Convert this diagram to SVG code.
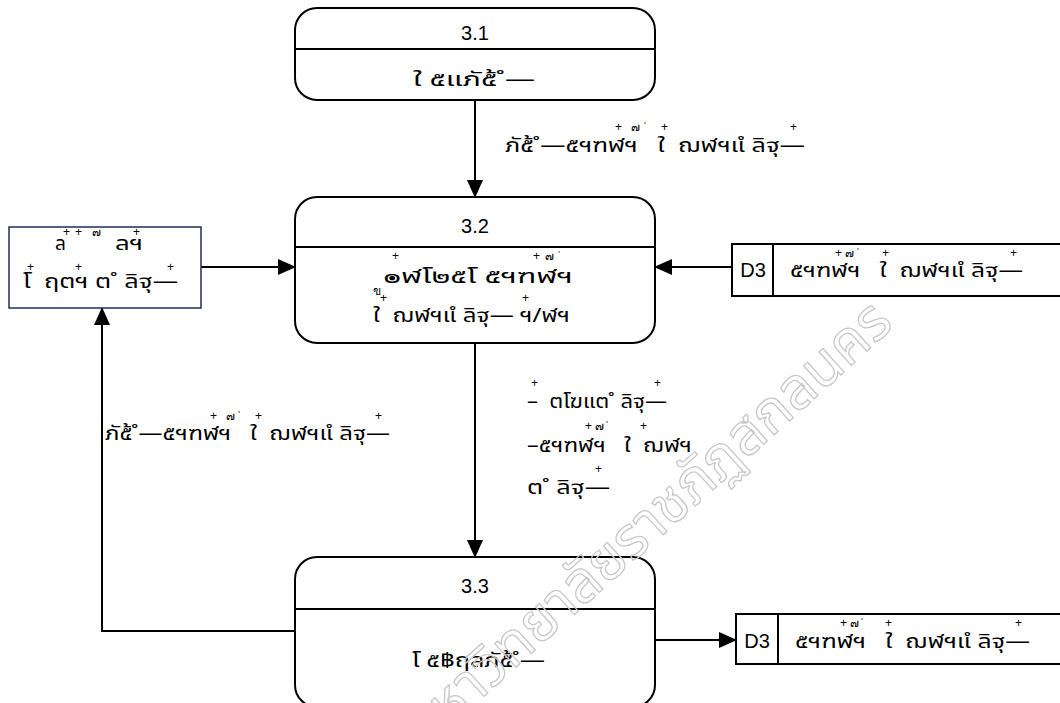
<svg xmlns="http://www.w3.org/2000/svg" width="1060" height="703" viewBox="0 0 1060 703">
<defs>
<marker id="ah" markerUnits="userSpaceOnUse" markerWidth="18" markerHeight="16" refX="17" refY="8" orient="auto">
<path d="M0,0 L18,8 L0,16 Z" fill="#000"/>
</marker>
<style>
.box{fill:#fff;stroke:#000;stroke-width:2}
.div{stroke:#000;stroke-width:2}
.num{font-family:"Liberation Sans","DejaVu Sans",sans-serif;font-size:20px;fill:#000;text-anchor:middle}
.th{font-family:"Noto Sans Thai","Noto Sans","DejaVu Sans",sans-serif;font-size:19px;fill:#000;white-space:pre}
.mk{font-family:"Liberation Sans","DejaVu Sans",sans-serif;font-size:12px;fill:#000}
.con{fill:none;stroke:#000;stroke-width:2}
.wm{font-family:"Noto Sans Thai","Noto Sans",sans-serif;font-size:58px;fill:none;stroke:#c8c8c8;stroke-width:1.3}
</style>
</defs>
<rect width="1060" height="703" fill="#fff"/>

<g id="connectors">
<line class="con" x1="475" y1="100" x2="475" y2="197" marker-end="url(#ah)"/>
<line class="con" x1="201" y1="267" x2="295" y2="267" marker-end="url(#ah)"/>
<line class="con" x1="732" y1="267" x2="655" y2="267" marker-end="url(#ah)"/>
<line class="con" x1="475" y1="343" x2="475" y2="557" marker-end="url(#ah)"/>
<polyline class="con" points="295,631 102,631 102,308" marker-end="url(#ah)"/>
<line class="con" x1="655" y1="640" x2="736" y2="640" marker-end="url(#ah)"/>
</g>

<g id="p31">
<rect class="box" x="295" y="8" width="360" height="92" rx="22"/>
<line class="div" x1="295" y1="49" x2="655" y2="49"/>
<text class="num" x="475" y="40">3.1</text>
<text class="th" x="413" y="86" textLength="122" lengthAdjust="spacingAndGlyphs">ใ ๕แภั๕้ ํ—</text>
</g>

<g id="lbl1">
<text class="th" x="505" y="152" textLength="300" lengthAdjust="spacingAndGlyphs">ภั๕้ ํ—๕ฯฑฬฯ   ใ  ฌฬฯแํ ลิฐุ—</text>
<text class="mk" y="131"><tspan x="615">+</tspan><tspan x="631">๗</tspan><tspan x="643">ˈ</tspan><tspan x="661">+</tspan><tspan x="790">+</tspan></text>
</g>

<g id="p32">
<rect class="box" x="295" y="197" width="360" height="146" rx="22"/>
<line class="div" x1="295" y1="247" x2="655" y2="247"/>
<text class="num" x="475" y="233">3.2</text>
<text class="th" x="383" y="283" textLength="190" lengthAdjust="spacingAndGlyphs">๏ฬโ๒๕โ ๕ฯฑฬฯ</text>
<text class="mk" y="260"><tspan x="392">+</tspan><tspan x="533">+</tspan><tspan x="545">๗</tspan><tspan x="557">ˈ</tspan></text>
<text class="mk" x="373" y="295">ข</text>
<text class="th" x="373" y="322" textLength="197" lengthAdjust="spacingAndGlyphs">ใ  ฌฬฯแํ ลิฐุ— ฯ/ฬฯ</text>
<text class="mk" y="302"><tspan x="380">+</tspan><tspan x="522">+</tspan></text>
</g>

<g id="entity">
<rect x="9" y="227" width="192" height="81" fill="#fff" stroke="#1f2d5a" stroke-width="1.5"/>
<text class="th" x="55" y="250">ล</text>
<text class="th" x="115" y="250" textLength="28" lengthAdjust="spacingAndGlyphs">ลฯ</text>
<text class="mk" y="236"><tspan x="63">+</tspan><tspan x="75">+</tspan><tspan x="92">๗</tspan><tspan x="133">+</tspan></text>
<text class="th" x="23" y="288" textLength="155" lengthAdjust="spacingAndGlyphs">โ  ฤตฯ ต ํ ลิฐุ—</text>
<text class="mk" y="271"><tspan x="27">+</tspan><tspan x="75">+</tspan><tspan x="167">+</tspan></text>
</g>

<g id="d3a">
<path d="M1060,244 H732 V296 H1060 M773,244 V296" fill="none" stroke="#000" stroke-width="2"/>
<text class="num" x="753" y="277">D3</text>
<text class="th" x="790" y="277" textLength="233" lengthAdjust="spacingAndGlyphs">๕ฯฑฬฯ   ใ  ฌฬฯแํ ลิฐุ—</text>
<text class="mk" y="257"><tspan x="835">+</tspan><tspan x="845">๗</tspan><tspan x="856">ˈ</tspan><tspan x="882">+</tspan><tspan x="1010">+</tspan></text>
</g>

<g id="lbl2">
<text class="th" x="527" y="408" textLength="140" lengthAdjust="spacingAndGlyphs">–  ตโฆแต ํ ลิฐุ—</text>
<text class="mk" y="387"><tspan x="531">+</tspan><tspan x="654">+</tspan></text>
<text class="th" x="527" y="452" textLength="165" lengthAdjust="spacingAndGlyphs">–๕ฯฑฬฯ   ใ  ฌฬฯ</text>
<text class="mk" y="430"><tspan x="585">+</tspan><tspan x="595">๗</tspan><tspan x="605">ˈ</tspan><tspan x="640">+</tspan></text>
<text class="th" x="527" y="494" textLength="83" lengthAdjust="spacingAndGlyphs">ต ํ ลิฐุ—</text>
<text class="mk" y="473"><tspan x="595">+</tspan></text>
</g>

<g id="lbl3">
<text class="th" x="105" y="440" textLength="285" lengthAdjust="spacingAndGlyphs">ภั๕้ ํ—๕ฯฑฬฯ   ใ  ฌฬฯแํ ลิฐุ—</text>
<text class="mk" y="420"><tspan x="210">+</tspan><tspan x="226">๗</tspan><tspan x="237">ˈ</tspan><tspan x="255">+</tspan><tspan x="375">+</tspan></text>
</g>

<g id="p33">
<rect class="box" x="295" y="557" width="360" height="150" rx="22"/>
<line class="div" x1="295" y1="609" x2="655" y2="609"/>
<text class="num" x="475" y="593">3.3</text>
<text class="th" x="412" y="667" textLength="133" lengthAdjust="spacingAndGlyphs">โ ๕฿ฤลภั๕้ ํ—</text>
</g>

<g id="d3b">
<path d="M1060,614 H736 V664 H1060 M778,614 V664" fill="none" stroke="#000" stroke-width="2"/>
<text class="num" x="757" y="648">D3</text>
<text class="th" x="795" y="648" textLength="235" lengthAdjust="spacingAndGlyphs">๕ฯฑฬฯ   ใ  ฌฬฯแํ ลิฐุ—</text>
<text class="mk" y="627"><tspan x="840">+</tspan><tspan x="850">๗</tspan><tspan x="860">ˈ</tspan><tspan x="885">+</tspan><tspan x="1015">+</tspan></text>
</g>

<text class="wm" transform="translate(422,752) rotate(-42)">มหาวิทยาลัยราชภัฏสกลนคร</text>
</svg>
